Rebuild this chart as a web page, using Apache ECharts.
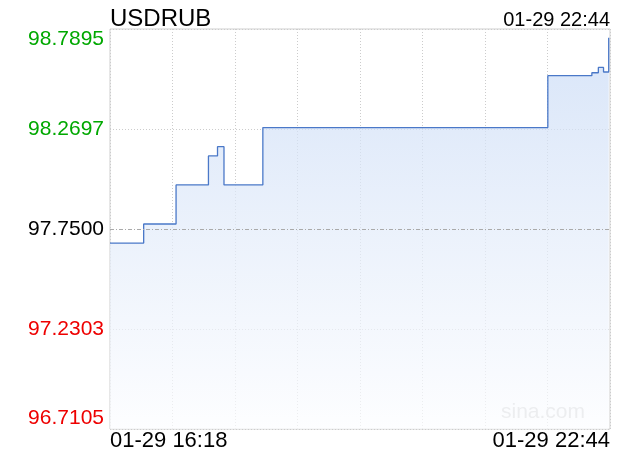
<!DOCTYPE html>
<html>
<head>
<meta charset="utf-8">
<script src="https://cdn.jsdelivr.net/npm/echarts@6/dist/echarts.min.js"></script>
<style>html,body{margin:0;padding:0;background:#fff}#c{width:620px;height:460px}</style>
</head>
<body>
<div id="c"></div>
<script>
// minutes since 16:18 at which the price changes
var times = [0, 26, 51, 76, 83, 88, 118, 338, 372, 377, 381, 385];
var prices = [97.677, 97.776, 97.979, 98.130, 98.178, 97.979, 98.277, 98.547, 98.562, 98.590, 98.566, 98.744];
var yTicks = [96.7105, 97.2303, 97.7500, 98.2697, 98.7895];
var prevClose = 97.75;
var xLabels = ['01-29 16:18', '01-29 22:44'];
var xRange = [0, 386];
var symbol = 'USDRUB';
var lastTime = '01-29 22:44';

var FONT = 'Liberation Sans, Arial, sans-serif';
var data = times.map(function (t, i) { return [t, prices[i]]; });

var chart = echarts.init(document.getElementById('c'), null, {renderer: 'canvas'});
chart.setOption({
  animation: false,
  backgroundColor: '#fff',
  title: [
    {text: symbol, left: 105, top: 2, textStyle: {fontFamily: FONT, fontSize: 24, fontWeight: 'normal', color: '#000'}},
    {text: lastTime, right: 5, top: 5, textStyle: {fontFamily: FONT, fontSize: 20, fontWeight: 'normal', color: '#000'}}
  ],
  grid: {left: 110, right: 10, top: 29, bottom: 31, show: true, borderColor: '#cfcfcf', borderWidth: 1, containLabel: false},
  xAxis: {
    type: 'value', min: xRange[0], max: xRange[1], interval: (xRange[1] - xRange[0]) / 8,
    axisLine: {show: false}, axisTick: {show: false},
    splitLine: {show: true, lineStyle: {color: '#cccccc', type: [1, 2], width: 1}},
    axisLabel: {
      customValues: xRange, showMinLabel: true, showMaxLabel: true,
      alignMinLabel: 'left', alignMaxLabel: 'right',
      margin: 1, fontFamily: FONT, fontSize: 22, color: '#000',
      formatter: function (v) { return v === xRange[0] ? xLabels[0] : xLabels[1]; }
    }
  },
  yAxis: {
    type: 'value', min: yTicks[0], max: yTicks[yTicks.length - 1],
    axisLine: {show: false},
    axisTick: {show: false, customValues: yTicks},
    splitLine: {show: true, lineStyle: {color: '#cccccc', type: [1, 2], width: 1}},
    axisLabel: {
      customValues: yTicks, showMinLabel: true, showMaxLabel: true,
      verticalAlignMinLabel: 'bottom', verticalAlignMaxLabel: 'top',
      margin: 6, fontFamily: FONT, fontSize: 21,
      formatter: function (v) {
        var s = v.toFixed(4);
        if (Math.abs(v - prevClose) < 1e-6) return '{k|' + s + '}';
        return v > prevClose ? '{g|' + s + '}' : '{r|' + s + '}';
      },
      rich: {
        g: {color: '#00a800', fontFamily: FONT, fontSize: 21},
        r: {color: '#ee0000', fontFamily: FONT, fontSize: 21},
        k: {color: '#000000', fontFamily: FONT, fontSize: 21}
      }
    }
  },
  graphic: [{
    type: 'text', right: 35, bottom: 37,
    style: {text: 'sina.com', fill: '#cccccc', font: '21px ' + FONT}
  }],
  series: [{
    type: 'line', data: data, step: 'end', showSymbol: false,
    lineStyle: {color: '#4a78c8', width: 1.3},
    areaStyle: {color: new echarts.graphic.LinearGradient(0, 0, 0, 1, [
      {offset: 0, color: '#c8daf6'}, {offset: 0.5, color: '#e3ecfa'}, {offset: 1, color: '#fcfdff'}
    ])},
    markLine: {
      silent: true, symbol: 'none', label: {show: false},
      lineStyle: {color: '#aaaaaa', type: [4, 2, 1, 2], width: 1},
      data: [{yAxis: prevClose}]
    }
  }]
});
</script>
</body>
</html>
